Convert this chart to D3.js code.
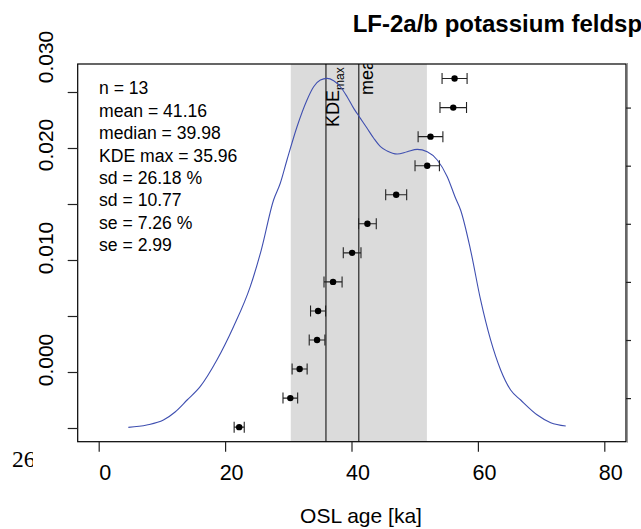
<!DOCTYPE html>
<html><head><meta charset="utf-8">
<script src="https://cdn.jsdelivr.net/npm/d3@7/dist/d3.min.js"></script>
<style>body{margin:0;background:#fff;overflow:hidden} svg{display:block}</style>
</head><body><svg id="c" width="641" height="529"></svg>
<script>
// ---- data ----
const ages   = [22.23, 30.32, 31.79, 34.55, 34.71, 37.08, 40.10, 42.52, 47.07, 51.98, 52.50, 56.10, 56.31];
const ageErr = [0.80, 1.16, 1.19, 1.24, 1.19, 1.43, 1.40, 1.40, 1.66, 1.93, 1.96, 2.10, 1.98];
const kdeX = [4.69, 7.61, 10.24, 12.09, 13.99, 16.05, 18.70, 21.33, 23.98, 25.72, 27.67, 28.73, 29.79, 31.38, 32.96, 34.01, 35.07, 36.13, 37.18, 38.24, 39.30, 40.35, 41.41, 42.47, 43.52, 44.58, 45.64, 47.23, 48.81, 50.40, 51.98, 53.57, 55.15, 56.47, 57.26, 58.84, 60.43, 62.01, 63.60, 65.18, 66.77, 69.41, 71.52, 73.90];
const kdeY = [0.00006, 0.00027, 0.00071, 0.00143, 0.00250, 0.00369, 0.00607, 0.00904, 0.01262, 0.01589, 0.02036, 0.02185, 0.02393, 0.02690, 0.02929, 0.03047, 0.03107, 0.03122, 0.03101, 0.03047, 0.02958, 0.02854, 0.02765, 0.02676, 0.02587, 0.02512, 0.02473, 0.02446, 0.02467, 0.02488, 0.02467, 0.02393, 0.02244, 0.02051, 0.01946, 0.01589, 0.01143, 0.00786, 0.00518, 0.00339, 0.00250, 0.00116, 0.00047, 0.00018];
const stat = {n: 13, mean: 41.16, median: 39.98, kdeMax: 35.96, sdRel: 26.18, sdAbs: 10.77, seRel: 7.26, seAbs: 2.99};
const xTicks = [0, 20, 40, 60, 80];
const densTicks = [0, 0.005, 0.010, 0.015, 0.020, 0.025, 0.030];
const densLabels = ["0.030", "0.020", "0.010", "0.000"];
const idxTicks = [2, 4, 6, 8, 10, 12];
const title = "LF-2a/b potassium feldsp";
const xLabel = "OSL age [ka]";

// ---- layout ----
const box = {l: 77.7, t: 64, r: 626, b: 441.7};
const FONT = "'Liberation Sans', Arial, Helvetica, sans-serif";
const svg = d3.select("#c");

const x = d3.scaleLinear().domain([0, 80]).range([98.7, 604.3]);
const yD = d3.scaleLinear().domain([0, 0.030]).range([428, 92]);
const yI = d3.scaleLinear().domain([0.5, ages.length + 0.5]).range([box.b, box.t]);

svg.append("defs").append("clipPath").attr("id", "plotclip")
  .append("rect").attr("x", box.l).attr("y", box.t).attr("width", box.r - box.l).attr("height", box.b - box.t);
svg.select("defs").append("clipPath").attr("id", "c26")
  .append("rect").attr("x", 0).attr("y", 430).attr("width", 33).attr("height", 60);

const plot = svg.append("g").attr("clip-path", "url(#plotclip)");

// sd band
plot.append("rect")
  .attr("x", x(stat.mean - stat.sdAbs)).attr("y", box.t)
  .attr("width", x(stat.mean + stat.sdAbs) - x(stat.mean - stat.sdAbs))
  .attr("height", box.b - box.t).attr("fill", "#dbdbdb");

// vertical lines
[stat.kdeMax, stat.mean].forEach(v => {
  plot.append("line").attr("x1", x(v)).attr("x2", x(v)).attr("y1", box.t).attr("y2", box.b)
    .attr("stroke", "#000").attr("stroke-width", 1);
});

// rotated labels
const kt = plot.append("text").attr("transform", `translate(${x(stat.kdeMax) + 13.5},127) rotate(-90)`)
  .attr("font-family", FONT).attr("font-size", 18).attr("fill", "#000");
kt.append("tspan").text("KDE");
kt.append("tspan").attr("font-size", 12).attr("dy", 5).text("max");
plot.append("text").attr("transform", `translate(${x(stat.mean) + 14},95) rotate(-90)`)
  .attr("font-family", FONT).attr("font-size", 18).attr("fill", "#000").text("mean");

// KDE curve
const line = d3.line().x(d => x(d[0])).y(d => yD(d[1])).curve(d3.curveMonotoneX);
plot.append("path").datum(kdeX.map((v, i) => [v, kdeY[i]]))
  .attr("d", line).attr("fill", "none").attr("stroke", "#3f4fb0").attr("stroke-width", 1.1);

// error bars
const eb = plot.append("g").attr("stroke", "#222").attr("stroke-width", 1.1);
ages.forEach((a, i) => {
  const yy = yI(i + 1), x0 = x(a - ageErr[i]), x1 = x(a + ageErr[i]);
  eb.append("line").attr("x1", x0).attr("x2", x1).attr("y1", yy).attr("y2", yy);
  eb.append("line").attr("x1", x0).attr("x2", x0).attr("y1", yy - 5.5).attr("y2", yy + 5.5);
  eb.append("line").attr("x1", x1).attr("x2", x1).attr("y1", yy - 5.5).attr("y2", yy + 5.5);
});
plot.append("g").selectAll("circle").data(ages).join("circle")
  .attr("cx", d => x(d)).attr("cy", (d, i) => yI(i + 1)).attr("r", 3.2).attr("fill", "#000");

// box
svg.append("rect").attr("x", box.l).attr("y", box.t).attr("width", box.r - box.l).attr("height", box.b - box.t)
  .attr("fill", "none").attr("stroke", "#000").attr("stroke-width", 1.2);
svg.append("line").attr("x1", box.r + 1.5).attr("x2", box.r + 1.5).attr("y1", box.t - 1).attr("y2", box.b + 1)
  .attr("stroke", "#999").attr("stroke-width", 1);

// x axis
const gx = svg.append("g").attr("transform", `translate(0,${box.b})`)
  .call(d3.axisBottom(x).tickValues(xTicks).tickSize(10).tickPadding(13).tickFormat(d3.format("d")));
gx.select(".domain").remove();
gx.selectAll(".tick line").attr("stroke", "#222").attr("stroke-width", 1.2);
gx.selectAll(".tick text").attr("font-family", FONT).attr("font-size", 21.5).attr("fill", "#000").attr("dx", 6);

// left axis (ticks)
const gy = svg.append("g").attr("transform", `translate(${box.l},0)`)
  .call(d3.axisLeft(yD).tickValues(densTicks).tickSize(10).tickFormat(""));
gy.select(".domain").remove();
gy.selectAll(".tick line").attr("stroke", "#222").attr("stroke-width", 1.2);
// left axis labels (as placed in the reference)
const labOff = [-35, -59, -68, -68];
densLabels.forEach((t, i) => {
  const v = +t;
  svg.append("text").attr("transform", `translate(53,${yD(v) + labOff[i]}) rotate(-90)`)
    .attr("text-anchor", "middle").attr("font-family", FONT).attr("font-size", 21).attr("fill", "#000").text(t);
});

// right axis
const gr = svg.append("g").attr("transform", `translate(${box.r},0)`)
  .call(d3.axisRight(yI).tickValues(idxTicks).tickSize(5).tickFormat(""));
gr.select(".domain").remove();
gr.selectAll(".tick line").attr("stroke", "#222").attr("stroke-width", 1.2);

// stats text
const statLines = [
  `n = ${stat.n}`, `mean = ${stat.mean.toFixed(2)}`, `median = ${stat.median.toFixed(2)}`,
  `KDE max = ${stat.kdeMax.toFixed(2)}`, `sd = ${stat.sdRel.toFixed(2)} %`, `sd = ${stat.sdAbs.toFixed(2)}`,
  `se = ${stat.seRel.toFixed(2)} %`, `se = ${stat.seAbs.toFixed(2)}`];
svg.append("g").selectAll("text").data(statLines).join("text")
  .attr("x", 99).attr("y", (d, i) => 94.4 + i * 22.4)
  .attr("font-family", FONT).attr("font-size", 17.6).attr("fill", "#000").text(d => d);

// title
svg.append("text").attr("x", 352.7).attr("y", 31.7).attr("font-family", FONT).attr("font-weight", "bold")
  .attr("font-size", 24).attr("fill", "#000").text(title);

// x label
svg.append("text").attr("x", 361).attr("y", 523).attr("text-anchor", "middle")
  .attr("font-family", FONT).attr("font-size", 21).attr("fill", "#000").text(xLabel);

// stray clipped label at bottom-left
svg.append("text").attr("x", 12).attr("y", 466.5).attr("clip-path", "url(#c26)")
  .attr("font-family", "'Liberation Serif', 'Times New Roman', serif").attr("font-size", 23.5).attr("fill", "#000").text("26");
</script></body></html>
